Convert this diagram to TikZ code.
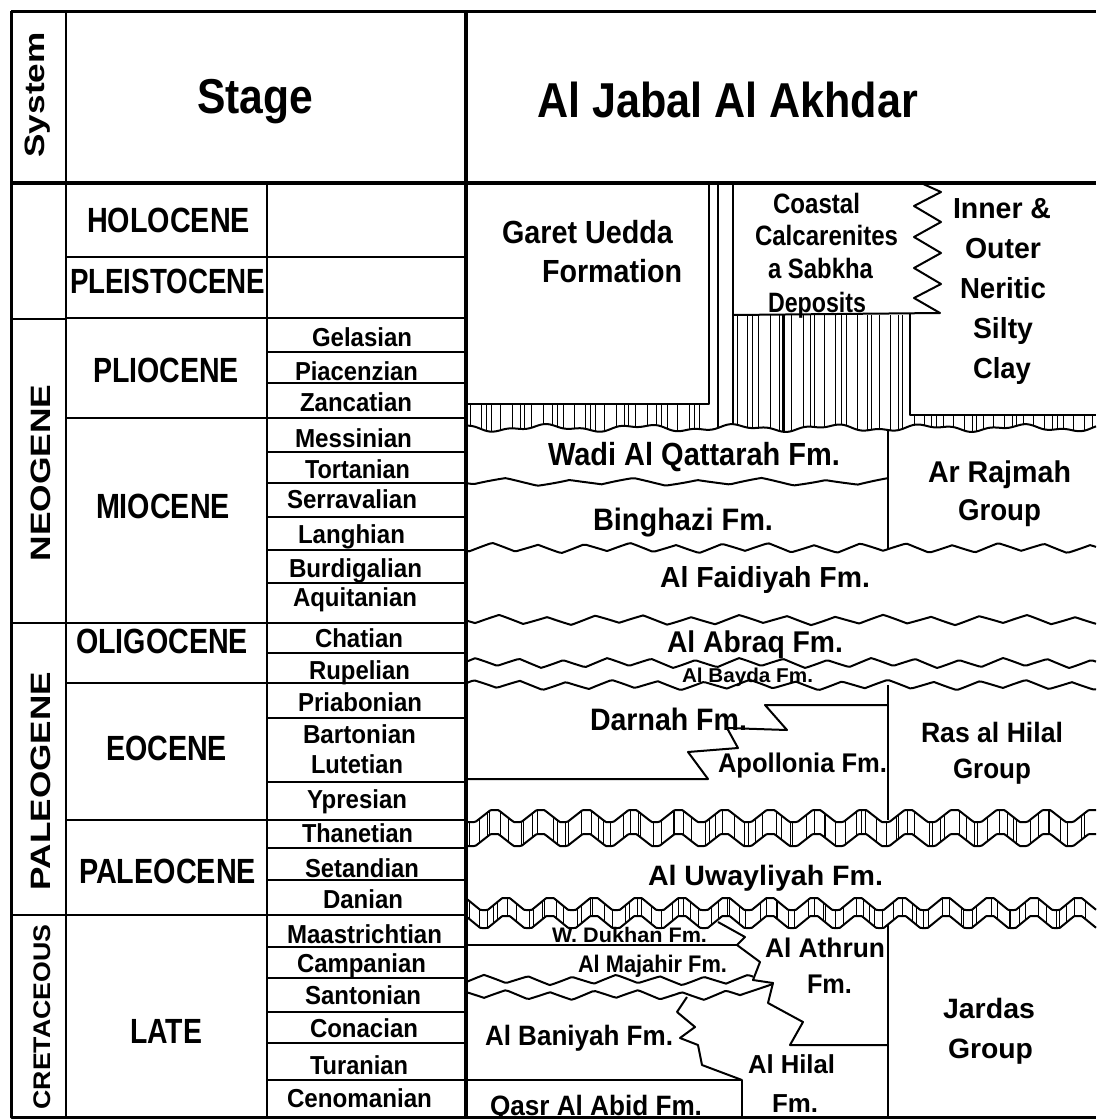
\documentclass[tikz,border=0pt]{standalone}
\usepackage{graphicx}
\usepackage{fontspec}
\setmainfont{Liberation Sans}
\newfontfamily\fmf{Liberation Sans Bold}
\newcommand\lab[7]{\node[lbl,font=#6\fontsize{#5}{#5}\selectfont] (#1) at (#2,#3) {\resizebox{#4pt}{\height}{#7}};}
\newcommand\wav[7]{\draw[fm] plot[domain=#1:#2,samples=#7] (\x,{#3+#4*wv(\x/#5+#6)+1.2*sin(\x*2.75)});}
\begin{document}
\begin{tikzpicture}[x=1pt,y=-1pt,line join=round,
 declare function={wv(\t)=4*abs(\t-floor(\t+0.5))-1; tz(\t)=max(-1,min(1,1.5*wv(\t))); bh(\t)=428+2.5*sin(\t*3.79)+1.5*sin(\t*9.73);},
 lbl/.style={anchor=base west,inner sep=0pt,outer sep=0pt},
 rlbl/.style={anchor=base,rotate=90,inner sep=0pt,outer sep=0pt},
 border/.style={line width=3pt},
 hdrline/.style={line width=3.5pt},
 mainv/.style={line width=4.5pt},
 colline/.style={line width=2.6pt},
 rowline/.style={line width=1.8pt},
 sysline/.style={line width=2.6pt},
 fm/.style={line width=2pt},
 divline/.style={line width=1.5pt},
 hatch/.style={line width=0.9pt}]
\useasboundingbox (0,0) rectangle (1096,1119);
\fill[white] (0,0) rectangle (1096,1119);

% ---------- left table ----------
\draw[border] (11,11) -- (1096,11);
\draw[border] (11,11) -- (11,1117) -- (1096,1117);
\draw[hdrline] (11,183) -- (1096,183);
\draw[colline] (66,11) -- (66,1117);
\draw[colline] (267,183) -- (267,1117);
\foreach \yy in {319,623,915} \draw[sysline] (11,\yy) -- (66,\yy);
\foreach \yy in {257,318,418,623,683,820,915} \draw[rowline] (66,\yy) -- (267,\yy);
\foreach \yy in {257,318,352,383,418,452,483,517,550,583,623,653,683,718,782,820,848,880,915,947,978,1012,1043,1080}
  \draw[rowline] (267,\yy) -- (466,\yy);

\node[rlbl,font=\bfseries\fontsize{28}{28}\selectfont] (system) at (44,95) {\resizebox{125pt}{\height}{System}};
\node[rlbl,font=\bfseries\fontsize{28}{28}\selectfont] (neogene) at (50,473) {\resizebox{177pt}{\height}{NEOGENE}};
\node[rlbl,font=\bfseries\fontsize{28}{28}\selectfont] (paleogene) at (50,781) {\resizebox{218pt}{\height}{PALEOGENE}};
\node[rlbl,font=\bfseries\fontsize{24}{24}\selectfont] (cretaceous) at (50,1017) {\resizebox{185pt}{\height}{CRETACEOUS}};

\lab{stage}{197}{113}{116}{49}{\bfseries}{Stage}
\lab{ajaa}{537}{117}{381}{49}{\bfseries}{Al Jabal Al Akhdar}

\lab{holo}{87}{232}{163}{35}{\bfseries}{HOLOCENE}
\lab{pleis}{70}{293}{195}{35}{\bfseries}{PLEISTOCENE}
\lab{plio}{93}{382}{146}{35}{\bfseries}{PLIOCENE}
\lab{mio}{96}{518}{134}{35}{\bfseries}{MIOCENE}
\lab{oligo}{76}{653}{172}{35}{\bfseries}{OLIGOCENE}
\lab{eoc}{106}{760}{121}{35}{\bfseries}{EOCENE}
\lab{paleoc}{79}{883}{177}{35}{\bfseries}{PALEOCENE}
\lab{late}{130}{1043}{72}{35}{\bfseries}{LATE}

\lab{gel}{312}{346}{100}{26}{\fmf}{Gelasian}
\lab{pia}{295}{380}{123}{26}{\fmf}{Piacenzian}
\lab{zan}{300}{411}{112}{26}{\fmf}{Zancatian}
\lab{mes}{295}{447}{117}{26}{\fmf}{Messinian}
\lab{tor}{305}{478}{105}{26}{\fmf}{Tortanian}
\lab{ser}{287}{508}{130}{26}{\fmf}{Serravalian}
\lab{lan}{298}{543}{107}{26}{\fmf}{Langhian}
\lab{bur}{289}{577}{133}{26}{\fmf}{Burdigalian}
\lab{aqu}{293}{606}{124}{26}{\fmf}{Aquitanian}
\lab{cha}{315}{647}{88}{26}{\fmf}{Chatian}
\lab{rup}{309}{679}{101}{26}{\fmf}{Rupelian}
\lab{pri}{298}{711}{124}{26}{\fmf}{Priabonian}
\lab{bar}{303}{743}{113}{26}{\fmf}{Bartonian}
\lab{lut}{311}{773}{92}{26}{\fmf}{Lutetian}
\lab{ypr}{307}{808}{100}{26}{\fmf}{Ypresian}
\lab{tha}{302}{842}{111}{26}{\fmf}{Thanetian}
\lab{set}{305}{877}{114}{26}{\fmf}{Setandian}
\lab{dan}{323}{908}{80}{26}{\fmf}{Danian}
\lab{maa}{287}{943}{155}{26}{\fmf}{Maastrichtian}
\lab{cam}{297}{972}{129}{26}{\fmf}{Campanian}
\lab{san}{305}{1004}{116}{26}{\fmf}{Santonian}
\lab{con}{310}{1037}{108}{26}{\fmf}{Conacian}
\lab{tur}{310}{1074}{98}{26}{\fmf}{Turanian}
\lab{cen}{287}{1107}{145}{26}{\fmf}{Cenomanian}

% ---------- right section: upper hatched unit ----------
\foreach \k in {0,...,29}{\pgfmathsetmacro\hx{470+8*\k+3*sin(\k*83)}
  \draw[hatch] (\hx,404) -- (\hx,{bh(\hx)});}
\foreach \k in {0,...,21}{\pgfmathsetmacro\hx{737+8*\k+2.5*sin(\k*97)}
  \draw[hatch] (\hx,315) -- (\hx,{bh(\hx)});}
\foreach \k in {0,...,22}{\pgfmathsetmacro\hx{914+8*\k+3*sin(\k*71)}
  \draw[hatch] (\hx,415) -- (\hx,{bh(\hx)});}
\draw[line width=3pt] (783,315) -- (783,{bh(783)});
\draw[fm] plot[domain=466:1096,samples=211] (\x,{bh(\x)});
\draw[fm] (466,404) -- (709,404) -- (709,183);
\draw[divline] (718,183) -- (718,{bh(718)});
\draw[fm] (733,183) -- (733,{bh(733)});
\draw[fm] (733,315) -- (940,313) -- (914,298) -- (941,284) -- (914,268) -- (941,253)
  -- (914,237) -- (941,222) -- (914,206) -- (941,192) -- (921,183);
\draw[fm] (910,313) -- (910,415) -- (1096,415);

% ---------- Miocene - Oligocene ----------
\wav{466}{888}{482}{3}{64}{0.1}{141}
\draw[divline] (888,{bh(888)}) -- (888,550);
\wav{466}{1096}{548}{4}{46}{0.3}{211}
\wav{466}{1096}{620}{4}{48}{0.6}{211}
\wav{466}{1096}{663}{4}{44}{0.2}{211}
\wav{466}{1096}{685}{4}{46}{0.7}{211}

% ---------- Eocene ----------
\draw[divline] (888,685) -- (888,820);
\draw[fm] (888,705) -- (765,705) -- (787,730) -- (727,728) -- (738,748) -- (688,752) -- (708,779) -- (466,779);

% ---------- hatched band 1 ----------
\foreach \k in {0,...,77}{\pgfmathsetmacro\hx{469+8*\k+3*sin(\k*77)+2*sin(\k*191)}
  \draw[hatch] (\hx,{816+6*tz(\hx/46+0.25)}) -- (\hx,{840+6*tz(\hx/46+0.25)});}
\draw[fm] plot[domain=466:1096,samples=316] (\x,{816+6*tz(\x/46+0.25)});
\draw[fm] plot[domain=466:1096,samples=316] (\x,{840+6*tz(\x/46+0.25)});

% ---------- hatched band 2 ----------
\foreach \k in {0,...,77}{\pgfmathsetmacro\hx{469+8*\k+3*sin(\k*61)+2*sin(\k*173)}
  \draw[hatch] (\hx,{904+6*tz(\hx/44+0.5)}) -- (\hx,{922+6*tz(\hx/44+0.5)});}
\draw[fm] plot[domain=466:1096,samples=316] (\x,{904+6*tz(\x/44+0.5)});
\draw[fm] plot[domain=466:1096,samples=316] (\x,{922+6*tz(\x/44+0.5)});

% ---------- Cretaceous ----------
\draw[divline] (888,925) -- (888,1117);
\draw[fm] (466,945) -- (737,945);
\draw[fm] (718,922) -- (745,937) -- (737,945) -- (760,962) -- (753,980) -- (773,983)
  -- (768,1003) -- (803,1022) -- (790,1045) -- (888,1045);
\wav{466}{753}{980}{4}{44}{0}{97}
\draw[fm] plot[domain=466:740,samples=92] (\x,{995+4*wv(\x/44+0.5)+1.2*sin(\x*2.75)}) -- (773,984);
\draw[fm] (687,997) -- (677,1012) -- (695,1027) -- (680,1038) -- (698,1045) -- (702,1065) -- (742,1080);
\draw[fm] (466,1080) -- (742,1080) -- (742,1117);

% ---------- formation labels ----------
\lab{garet}{502}{243}{171}{32}{\fmf}{Garet Uedda}
\lab{garetb}{542}{282}{140}{32}{\fmf}{Formation}
\lab{coast}{773}{213}{87}{28}{\fmf}{Coastal}
\lab{calc}{755}{245}{143}{28}{\fmf}{Calcarenites}
\lab{sabk}{768}{278}{105}{28}{\fmf}{a Sabkha}
\lab{depo}{768}{312}{98}{28}{\fmf}{Deposits}
\lab{inner}{953}{218}{98}{29}{\fmf}{Inner \&}
\lab{outer}{965}{258}{76}{29}{\fmf}{Outer}
\lab{nerit}{960}{298}{86}{29}{\fmf}{Neritic}
\lab{silty}{973}{338}{60}{29}{\fmf}{Silty}
\lab{clay}{973}{378}{58}{29}{\fmf}{Clay}
\lab{wadi}{548}{465}{292}{32}{\fmf}{Wadi Al Qattarah Fm.}
\lab{rajmah}{928}{482}{143}{30}{\fmf}{Ar Rajmah}
\lab{rajmahb}{958}{520}{83}{30}{\fmf}{Group}
\lab{bingh}{593}{530}{180}{31}{\fmf}{Binghazi Fm.}
\lab{faid}{660}{587}{210}{29}{\fmf}{Al Faidiyah Fm.}
\lab{abraq}{667}{652}{176}{30}{\fmf}{Al Abraq Fm.}
\lab{bayda}{682}{682}{131}{20}{\fmf}{Al Bayda Fm.}
\lab{darnah}{590}{730}{157}{31}{\fmf}{Darnah Fm.}
\lab{apoll}{718}{772}{169}{27}{\fmf}{Apollonia Fm.}
\lab{rashilal}{921}{742}{142}{28}{\fmf}{Ras al Hilal}
\lab{rashilalb}{953}{778}{78}{28}{\fmf}{Group}
\lab{uway}{648}{885}{235}{28}{\fmf}{Al Uwayliyah Fm.}
\lab{dukhan}{552}{942}{155}{21}{\fmf}{W. Dukhan Fm.}
\lab{majahir}{578}{972}{149}{24}{\fmf}{Al Majahir Fm.}
\lab{athrun}{765}{957}{120}{27}{\fmf}{Al Athrun}
\lab{athrunb}{807}{993}{45}{27}{\fmf}{Fm.}
\lab{baniyah}{485}{1045}{188}{28}{\fmf}{Al Baniyah Fm.}
\lab{hilal}{748}{1073}{87}{26}{\fmf}{Al Hilal}
\lab{hilalb}{772}{1112}{46}{26}{\fmf}{Fm.}
\lab{jardas}{943}{1018}{92}{28}{\fmf}{Jardas}
\lab{jardasb}{948}{1058}{85}{28}{\fmf}{Group}
\lab{qasr}{490}{1115}{212}{28}{\fmf}{Qasr Al Abid Fm.}

% thick main divider on top
\draw[mainv] (466,11) -- (466,1117);
\end{tikzpicture}
\end{document}
